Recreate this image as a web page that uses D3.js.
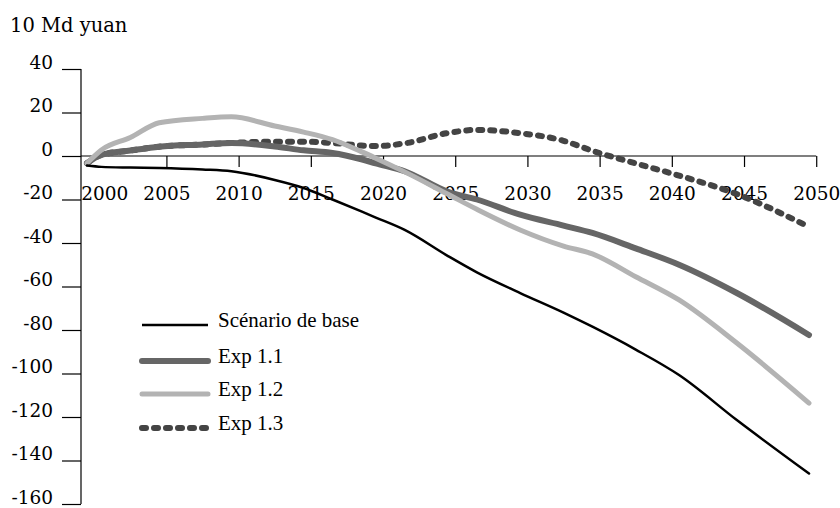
<!DOCTYPE html>
<html>
<head>
<meta charset="utf-8">
<script src="https://cdn.jsdelivr.net/npm/d3@7"></script>
<style>
  body { margin: 0; background: #fff; }
  svg { display: block; }
</style>
</head>
<body>
<div id="chart"></div>
<script>
// data (10 Md yuan)
const years = [2000, 2001, 2003, 2005, 2008, 2010, 2013, 2015, 2017, 2019, 2020, 2022, 2025, 2027, 2030, 2033, 2035, 2038, 2041, 2045, 2050];
const base  = [-4.4, -5, -5.3, -5.5, -6.2, -7, -11, -14.7, -20, -25.5, -28.3, -34, -46, -53.5, -63, -72, -78.5, -89, -100.7, -121.4, -146];
const exp11 = [-3.3, 0.5, 2.5, 4.3, 5.3, 6, 4.4, 2.6, 1.4, -1.5, -3.4, -7, -16.5, -20, -27, -32, -35.4, -42.5, -50, -63, -82.3];
const exp12 = [-3.3, 2.8, 8.5, 15.3, 17.3, 18, 13.8, 11, 7.5, 2, -1, -7.3, -17.6, -24.5, -34, -41.4, -45, -55.5, -66.2, -86, -113.6];
const exp13 = [-3.3, 0.5, 2.5, 4.3, 5.3, 6, 6.6, 6.6, 6, 4.8, 4.6, 5.8, 10.6, 12, 10.5, 7, 2.4, -3.4, -9, -17.5, -32.6];

const seriesNames = ["Scénario de base", "Exp 1.1", "Exp 1.2", "Exp 1.3"];
const yTicks = [40, 20, 0, -20, -40, -60, -80, -100, -120, -140, -160];
const xTicks = [2000, 2005, 2010, 2015, 2020, 2025, 2030, 2035, 2040, 2045, 2050];

const width = 840, height = 508;

const svg = d3.select("#chart")
    .append("svg")
    .attr("width", width)
    .attr("height", height);

// data points sit half a year left of the tick marks
let x = d3.scaleLinear()
    .domain([2000, 2050])
    .range([87, 809]);

let y = d3.scaleLinear()
    .domain([-160, 40])
    .range([504, 69]);

const numFont = "'DejaVu Serif', serif";
const legFont = "'Liberation Serif', 'Times New Roman', serif";

// unit label
svg.append("text")
    .attr("x", 10)
    .attr("y", 32)
    .style("font-family", numFont)
    .style("font-size", "19.5px")
    .text("10 Md yuan");

// y axis
let yAxis = svg.append("g")
    .attr("transform", `translate(81,0)`)
    .call(d3.axisLeft(y).tickValues(yTicks).tickSize(19).tickPadding(9).tickFormat(d => String(d)));
yAxis.select(".domain").attr("stroke", "#000").attr("stroke-width", 1.2)
    .attr("d", `M0,${y(40)}V${y(-160)}`);
yAxis.selectAll(".tick line").attr("stroke", "#000").attr("stroke-width", 1.2);
yAxis.selectAll("text")
    .style("font-family", numFont)
    .style("font-size", "18.5px")
    .attr("fill", "#000")
    .attr("dy", "-0.05em");

// x axis at zero
let xAxis = svg.append("g")
    .attr("transform", `translate(0,${y(0)})`)
    .call(d3.axisBottom(d3.scaleLinear().domain([2000.5, 2050.5]).range([x(2000.5), x(2050.5)]))
        .tickValues(xTicks.map(t => t + 0.5))
        .tickSize(11).tickPadding(20)
        .tickFormat(d => String(d - 0.5)));
xAxis.select(".domain").attr("stroke", "#000").attr("stroke-width", 1.2)
    .attr("d", `M81,0H${x(2050.5)}`);
xAxis.selectAll(".tick line").attr("stroke", "#000").attr("stroke-width", 1.2)
    .attr("opacity", d => d === 2000.5 ? 0 : 1);
xAxis.selectAll("text")
    .style("font-family", numFont)
    .style("font-size", "18.5px")
    .attr("fill", "#000")
    .attr("dx", d => d === 2000.5 ? 10 : 0);

// series
const styles = [
    { color: "#000000", w: 2.5, dash: null },
    { color: "#666666", w: 6, dash: null },
    { color: "#b3b3b3", w: 5, dash: null },
    { color: "#444444", w: 6, dash: "4,8" }
];
const allValues = [base, exp11, exp12, exp13];

let line = d3.line()
    .x((d, i) => x(years[i]))
    .y(d => y(d))
    .curve(d3.curveMonotoneX);

// dotted line sits under Exp 1.1 where the two overlap
const drawOrder = [3, 1, 2, 0];
for (let k of drawOrder) {
    svg.append("path")
        .datum(allValues[k])
        .attr("fill", "none")
        .attr("stroke", styles[k].color)
        .attr("stroke-width", styles[k].w)
        .attr("stroke-linecap", "round")
        .attr("stroke-linejoin", "round")
        .attr("stroke-dasharray", styles[k].dash)
        .attr("d", line);
}

// legend
const legY = [325, 361, 394, 428];
let leg = svg.append("g");
seriesNames.forEach((name, k) => {
    leg.append("line")
        .attr("x1", 142).attr("x2", 208)
        .attr("y1", legY[k]).attr("y2", legY[k])
        .attr("stroke", styles[k].color)
        .attr("stroke-width", styles[k].w)
        .attr("stroke-linecap", k === 0 ? "butt" : "round")
        .attr("stroke-dasharray", styles[k].dash);
    leg.append("text")
        .attr("x", 218)
        .attr("y", legY[k] + 2)
        .style("font-family", legFont)
        .style("font-size", "21px")
        .text(name);
});
</script>
</body>
</html>
